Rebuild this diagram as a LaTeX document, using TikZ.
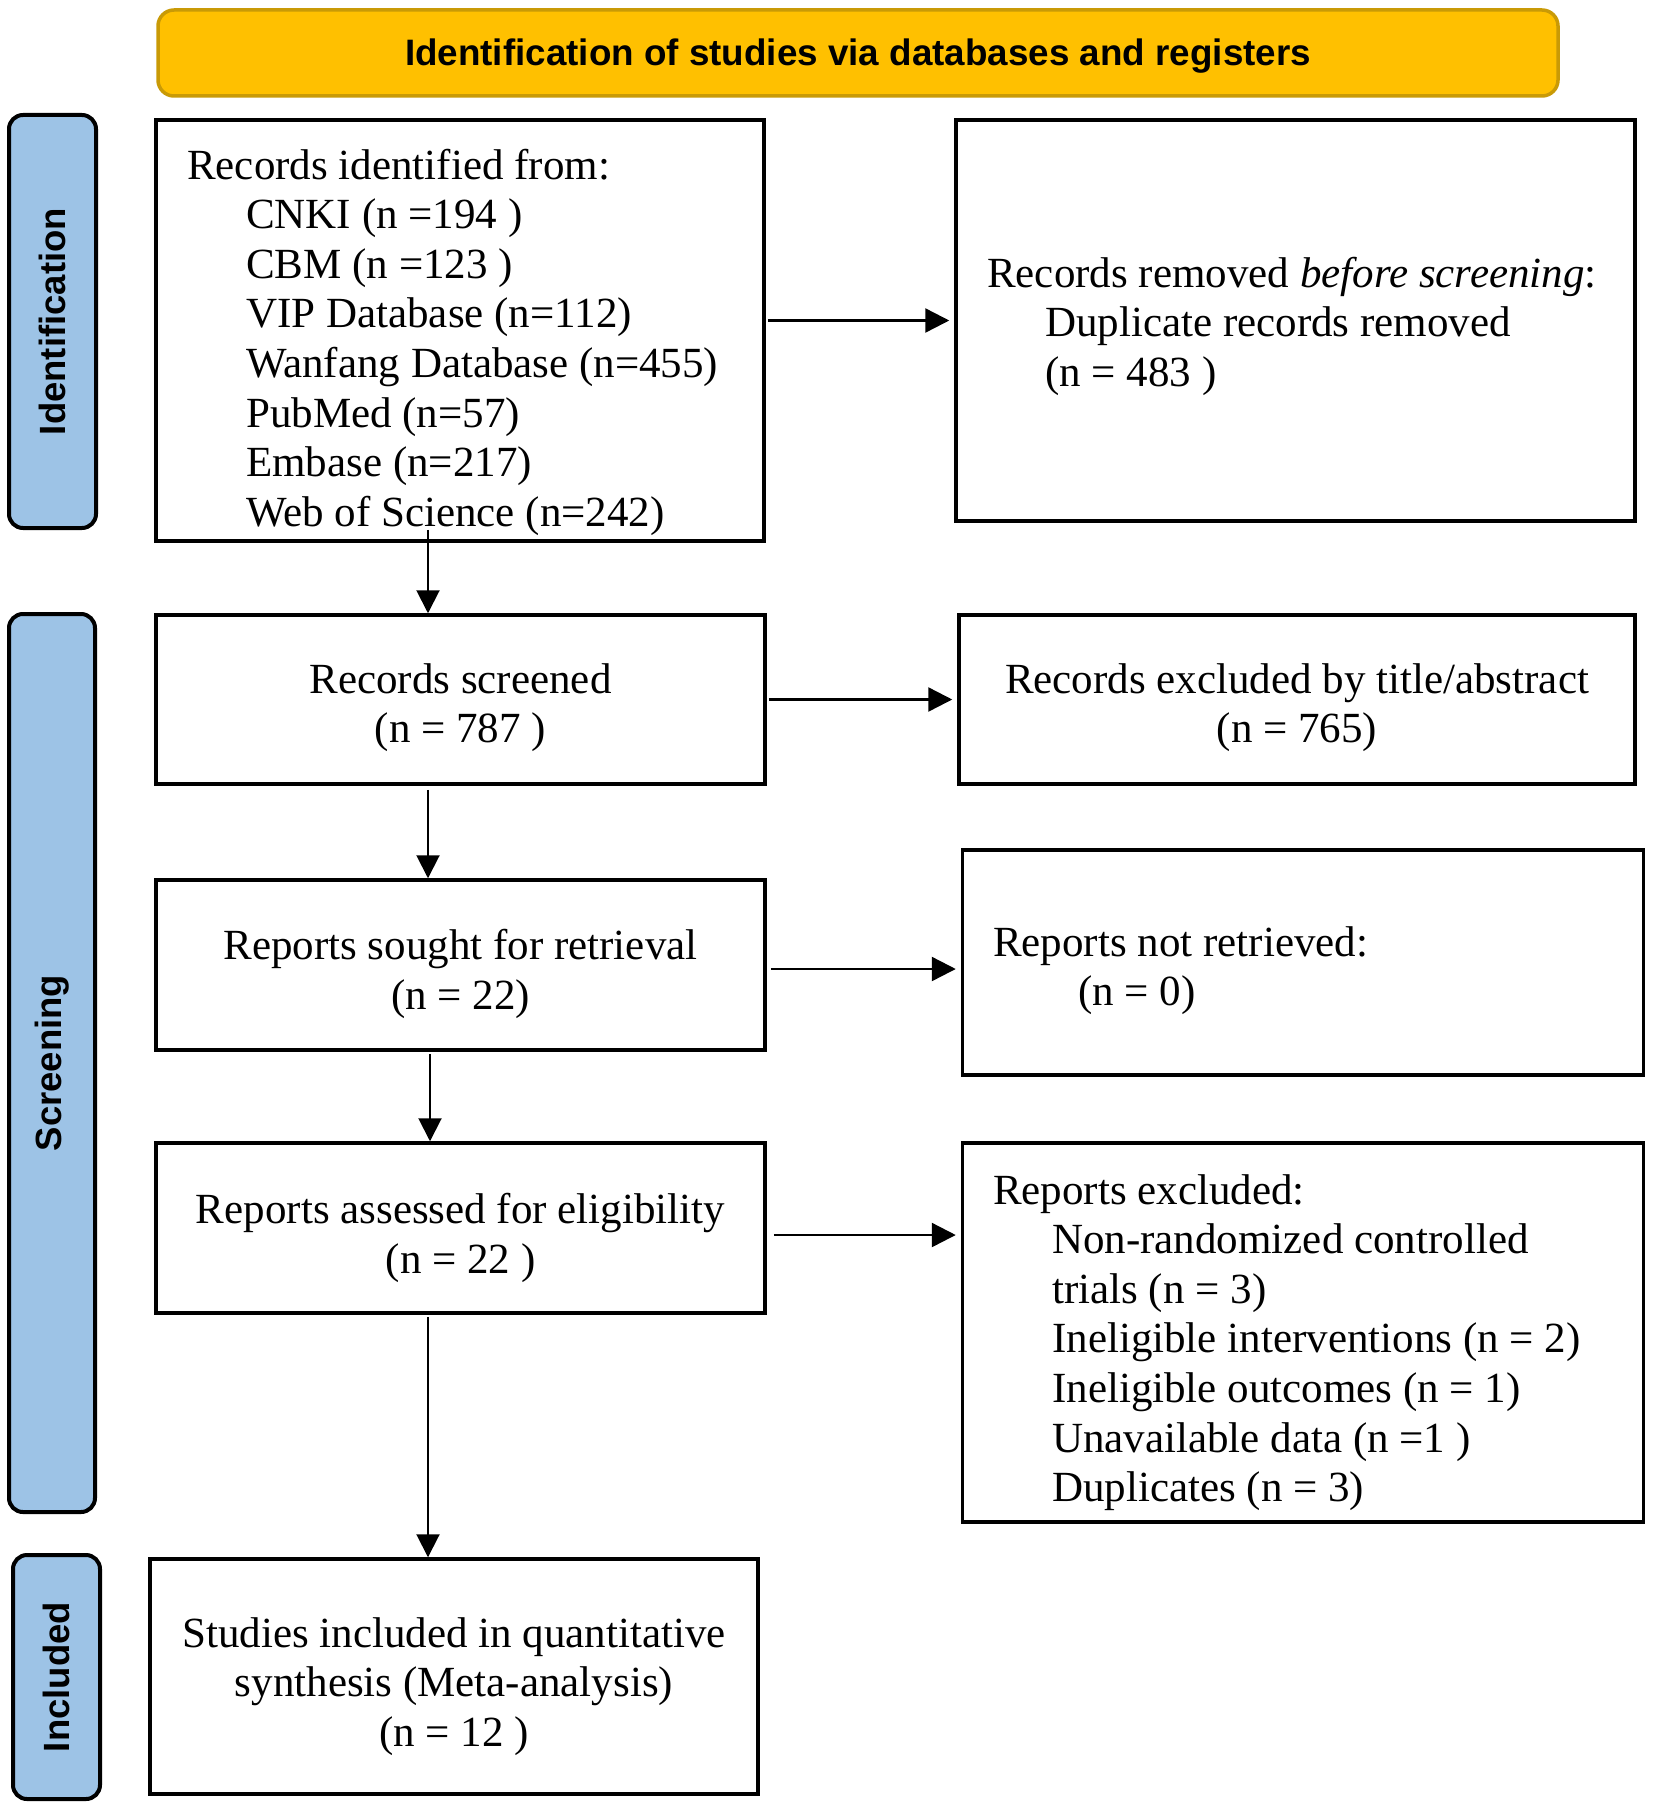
\documentclass[tikz,border=0pt]{standalone}
\usepackage{fontspec}
\setmainfont{Liberation Serif}
\newfontfamily\labfont{Liberation Sans}
\usetikzlibrary{arrows.meta}
\definecolor{bannerfill}{HTML}{FFC000}
\definecolor{bannerdraw}{HTML}{C99A06}
\definecolor{sidefill}{HTML}{9DC3E6}
\tikzset{
  box/.style={draw, line width=3.5pt, inner sep=0pt},
  boxtext/.style={inner sep=0pt, align=center,
    font=\fontsize{43}{49.6}\selectfont},
  txtline/.style={anchor=base west, inner sep=0pt,
    font=\fontsize{43}{49.6}\selectfont},
  banner/.style={draw=bannerdraw, fill=bannerfill, line width=3.5pt,
    rounded corners=16pt},
  bannertext/.style={inner sep=0pt, font=\labfont\bfseries\fontsize{36.8}{43}\selectfont},
  side/.style={draw=black, fill=sidefill, line width=4pt, rounded corners=14pt,
    rotate=90, font=\labfont\bfseries\fontsize{36.5}{43}\selectfont},
  arr/.style={-{Triangle[length=23pt,width=23pt]}, line width=2pt},
  harr/.style={-{Triangle[length=24pt,width=24pt]}, line width=2.4pt}
}
\begin{document}
\begin{tikzpicture}[x=1pt,y=-1pt]
\useasboundingbox (0,0) rectangle (1654,1814);

% banner and side labels
\node[banner, minimum width=1400pt, minimum height=86pt] (banner) at (858,53) {};
\node[bannertext] (bannert) at ([yshift=-3pt]banner.center)
  {Identification of studies via databases and registers};
\node[side, minimum width=413pt, minimum height=87pt] (sideid) at (52.5,321.5) {Identification};
\node[side, minimum width=898pt, minimum height=86pt] (sidescr) at (52,1063) {Screening};
\node[side, minimum width=244pt, minimum height=87pt] (sideinc) at (56.5,1677) {Included};

% boxes
\node[box, minimum width=608pt, minimum height=421pt] (box1) at (460,330.5) {};
\node[box, minimum width=679pt, minimum height=401pt] (removed) at (1295.5,320.5) {};
\node[box, minimum width=609pt, minimum height=169pt] (screened) at (460.5,699.5) {};
\node[box, minimum width=676pt, minimum height=169pt] (excl) at (1297,699.5) {};
\node[box, minimum width=609pt, minimum height=170pt] (sought) at (460.5,965) {};
\node[box, minimum width=681pt, minimum height=225pt] (notret) at (1303,962.5) {};
\node[box, minimum width=609pt, minimum height=170pt] (assessed) at (460.5,1228) {};
\node[box, minimum width=681pt, minimum height=379pt] (repexcl) at (1303,1332.5) {};
\node[box, minimum width=608pt, minimum height=235pt] (incl) at (454,1676.5) {};

% centred texts
\node[boxtext] (screenedt) at ([yshift=-8pt]screened.center) {Records screened\\(n = 787 )};
\node[boxtext] (exclt) at ([yshift=-8pt]excl.center) {Records excluded by title/abstract\\(n = 765)};
\node[boxtext] (soughtt) at ([yshift=-9pt]sought.center) {Reports sought for retrieval\\(n = 22)};
\node[boxtext] (assessedt) at ([yshift=-10pt]assessed.center) {Reports assessed for eligibility\\(n = 22 )};
\node[boxtext] (inclt) at ([yshift=-10pt]incl.center)
  {Studies included in quantitative\\synthesis (Meta-analysis)\\(n = 12 )};

% left-aligned texts
\node[txtline] (b1l0) at (187,179) {Records identified from:};
\node[txtline] (b1l1) at (246,228.6) {CNKI (n =194 )};
\node[txtline] (b1l2) at (246,278.2) {CBM (n =123 )};
\node[txtline] (b1l3) at (246,327.8) {VIP Database (n=112)};
\node[txtline] (b1l4) at (246,377.4) {Wanfang Database (n=455)};
\node[txtline] (b1l5) at (246,427) {PubMed (n=57)};
\node[txtline] (b1l6) at (246,476.6) {Embase (n=217)};
\node[txtline] (b1l7) at (246,526.2) {Web of Science (n=242)};

\node[txtline] (rml0) at (987,287) {Records removed \textit{before screening}:};
\node[txtline] (rml1) at (1045,336.6) {Duplicate records removed};
\node[txtline] (rml2) at (1045,386.2) {(n = 483 )};

\node[txtline] (nrl0) at (993,956) {Reports not retrieved:};
\node[txtline] (nrl1) at (1078,1005) {(n = 0)};

\node[txtline] (rel0) at (993,1204) {Reports excluded:};
\node[txtline] (rel1) at (1052,1253.6) {Non-randomized controlled};
\node[txtline] (rel2) at (1052,1303.2) {trials (n = 3)};
\node[txtline] (rel3) at (1052,1352.8) {Ineligible interventions (n = 2)};
\node[txtline] (rel4) at (1052,1402.4) {Ineligible outcomes (n = 1)};
\node[txtline] (rel5) at (1052,1452) {Unavailable data (n =1 )};
\node[txtline] (rel6) at (1052,1501.6) {Duplicates (n = 3)};

% connectors
\coordinate (vx) at (428,0);
\coordinate (vy) at (430,0);
\draw[arr] ([yshift=13pt]box1.south -| vx) -- (screened.north -| vx);
\draw[arr] ([yshift=-4pt]screened.south -| vx) -- (sought.north -| vx);
\draw[arr] ([yshift=-2pt]sought.south -| vy) -- (assessed.north -| vy);
\draw[arr] ([yshift=-2pt]assessed.south -| vx) -- (incl.north -| vx);

\draw[harr, shorten >=5pt] ([xshift=2pt]box1.east |- removed.west) -- (removed.west);
\draw[harr, shorten >=5pt] ([xshift=2pt]screened.east) -- (screened.east -| excl.west);
\draw[harr, shorten >=5pt] ([xshift=4pt,yshift=-4pt]sought.east) -- ([yshift=-4pt]sought.east -| notret.west);
\draw[harr, shorten >=5pt] ([xshift=7pt,yshift=-7pt]assessed.east) -- ([yshift=-7pt]assessed.east -| repexcl.west);
\end{tikzpicture}
\end{document}
